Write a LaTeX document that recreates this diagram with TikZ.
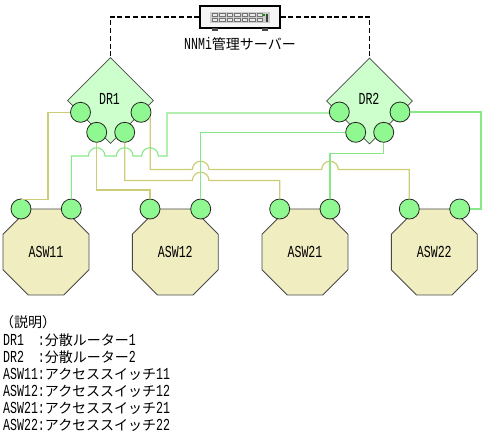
\documentclass[tikz,border=0pt]{standalone}
\usepackage{fontspec}
\setmainfont[Scale=1.2,FakeStretch=0.69]{Liberation Mono}
\newfontfamily\jpfont{Noto Sans CJK JP}
\newfontfamily\jphalt[RawFeature=+halt]{Noto Sans CJK JP}
\usepackage{xcolor}
\usetikzlibrary{shapes.geometric,positioning,calc}
\definecolor{routerfill}{HTML}{CCFFCC}
\definecolor{switchfill}{HTML}{F0EEC0}
\definecolor{portfill}{HTML}{90F890}
\definecolor{edgegray}{HTML}{484848}
\definecolor{greenlink}{HTML}{88E888}
\definecolor{yellowlink}{HTML}{CDCD78}
\newcommand{\hopover}{arc[start angle=180,end angle=0,radius=8.3pt]}

\begin{document}
\begin{tikzpicture}[
    x=1pt, y=-1pt,
    font=\fontsize{14pt}{17pt}\selectfont,
    router/.style={diamond, draw=edgegray, fill=routerfill, line width=0.8pt, minimum width=86pt, minimum height=86pt, aspect=1, inner sep=0pt},
    switch/.style={regular polygon, regular polygon sides=8, draw=edgegray, fill=switchfill, line width=0.9pt, minimum size=93pt, inner sep=0pt},
    port/.style={circle, draw=black!85, fill=portfill, line width=0.8pt, minimum size=20pt, inner sep=0pt},
    greenline/.style={greenlink, line width=1.1pt},
    yellowline/.style={yellowlink, line width=1.2pt},
    mgmtline/.style={black, line width=1.3pt, dash pattern=on 5pt off 2.7pt},
    legendtext/.style={anchor=west, inner sep=0pt}
]
\useasboundingbox (0,0) rectangle (484,437);

% Server
\node[draw=black, fill=black!4, line width=1.1pt, minimum width=80pt, minimum height=22pt, inner sep=0pt] (server) at (240,17) {};
\fill[black!70] (212,28) rectangle (218,30.5);
\fill[black!70] (262,28) rectangle (268,30.5);
\fill[black!20] (210,12) rectangle (270,23);
\foreach \cx in {0,...,6}
  \foreach \cy in {13.5,18.5}
    \draw[black!55, fill=black!8, line width=0.6pt] ({212+\cx*7.5},\cy) rectangle ++(5.5,3);
\fill[green!60!black] (262.5,14) rectangle ++(2,2);
\fill[black!75] (265.5,13.5) rectangle ++(2.5,8);
\node[below=9pt of server, inner sep=0pt] (serverlabel) {NNMi{\jpfont 管理サーバー}};

% Routers
\node[router] (dr1) at (110.5,100.5) {};
\node[router] (dr2) at (369.5,101) {};
\node[inner sep=0pt] (dr1label) at (109.5,99) {DR1};
\node[inner sep=0pt] (dr2label) at (369,99) {DR2};

% Switches
\node[switch] (asw11) at (46,252) {ASW11};
\node[switch] (asw12) at (175.3,252) {ASW12};
\node[switch] (asw21) at (305,252) {ASW21};
\node[switch] (asw22) at (434.3,252) {ASW22};

% Ports
\node[port] (dr1a) at (80.5,112.3) {};
\node[port] (dr1b) at (96.7,132.3) {};
\node[port] (dr1c) at (124.7,132.3) {};
\node[port] (dr1d) at (141,112.3) {};
\node[port] (dr2a) at (339.3,112) {};
\node[port] (dr2b) at (355.7,132.3) {};
\node[port] (dr2c) at (383.7,132.3) {};
\node[port] (dr2d) at (400,112) {};
\node[port] (asw11a) at (21,209) {};
\node[port] (asw11b) at (71.3,209) {};
\node[port] (asw12a) at (150,209) {};
\node[port] (asw12b) at (200.7,209) {};
\node[port] (asw21a) at (279.7,209) {};
\node[port] (asw21b) at (330,209) {};
\node[port] (asw22a) at (409.3,209) {};
\node[port] (asw22b) at (459.7,209) {};

% Management links
\draw[mgmtline] (server.west) -| (dr1.north);
\draw[mgmtline] (server.east) -| (dr2.north);

% Links to DR1
\draw[yellowline] (dr1a.west) -| (48,199.5) -- (asw11a.north |- 0,199.5);
\draw[yellowline] (dr1b.south) |- (150,190) -- (asw12a.north);
\draw[yellowline] (dr1c.south) |- (192.4,180.5) \hopover -| (asw21a.north);
\draw[yellowline] (dr1d.-26) |- (192.4,169.5) \hopover -- (321.7,169.5) \hopover -| (asw22a.north);
\draw[greenline] (asw11b.north) |- (88.4,156) \hopover -- (116.4,156) \hopover -- (141.7,156) \hopover -| (167,113) -- (dr2a.west |- 0,113);

% Links to DR2
\draw[greenline] (asw12b.north) |- (dr2b.west);
\draw[greenline] (dr2c.south) |- (asw21b.north |- 0,153.5) -- (asw21b.north);
\draw[greenline] (dr2d.east) -| (481,209) -- (asw22b.east);

% Legend
\node[legendtext] (legend0) at (7,322) {\jphalt （説明）};
\node[legendtext] (legend1) at (3,340) {DR1\ \ :{\jpfont 分散ルーター}1};
\node[legendtext] (legend2) at (3,357) {DR2\ \ :{\jpfont 分散ルーター}2};
\node[legendtext] (legend3) at (3,374) {ASW11:{\jpfont アクセススイッチ}11};
\node[legendtext] (legend4) at (3,391) {ASW12:{\jpfont アクセススイッチ}12};
\node[legendtext] (legend5) at (3,408) {ASW21:{\jpfont アクセススイッチ}21};
\node[legendtext] (legend6) at (3,425) {ASW22:{\jpfont アクセススイッチ}22};
\end{tikzpicture}
\end{document}
